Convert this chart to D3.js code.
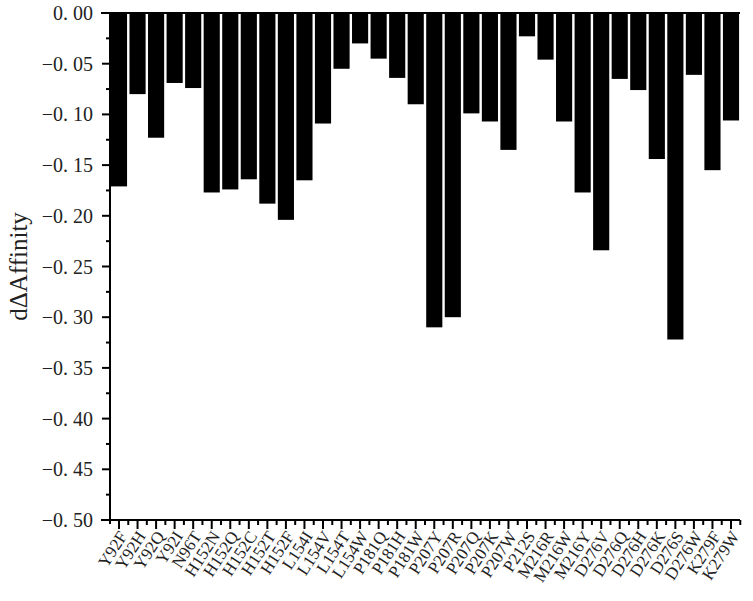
<!DOCTYPE html>
<html>
<head>
<meta charset="utf-8" />
<title>dΔAffinity bar chart</title>
<style>
html, body{
	margin: 0px;
	padding: 0px;
	background: #fff;
}
svg text{
	font-family: "Liberation Serif", "DejaVu Serif", serif;
	fill: #222;
}
</style>
</head>
<body>
<div id="chart"></div>
<script src="https://d3js.org/d3.v7.min.js"></script>
<script>

// mutations on the x axis
var mutants = ["Y92F","Y92H","Y92Q","Y92I","N96T","H152N","H152Q","H152C","H152T","H152F",
	"L154I","L154V","L154T","L154W","P181Q","P181H","P181W","P207Y","P207R","P207Q",
	"P207K","P207W","P212S","M216R","M216W","M216Y","D276V","D276Q","D276H","D276K",
	"D276S","D276W","K279F","K279W"];

// dΔAffinity values
var affinity = [-0.171,-0.080,-0.123,-0.069,-0.074,-0.177,-0.174,-0.164,-0.188,-0.204,
	-0.165,-0.109,-0.055,-0.030,-0.045,-0.064,-0.090,-0.310,-0.300,-0.099,
	-0.107,-0.135,-0.023,-0.046,-0.107,-0.177,-0.234,-0.065,-0.076,-0.144,
	-0.322,-0.061,-0.155,-0.106];

var yTicks = [0,-0.05,-0.10,-0.15,-0.20,-0.25,-0.30,-0.35,-0.40,-0.45,-0.50];
var yMinor = d3.range(0, 21).map(function(i){ return -i * 0.025; });

var W = 753, H = 601;
var mLeft = 110, mRight = 740, mTop = 13, mBottom = 520;

var svg = d3.select("#chart").append("svg")
	.attr("width", W)
	.attr("height", H);

var x = d3.scaleBand()
	.domain(mutants)
	.range([mLeft, mRight])
	.paddingInner(0.13)
	.paddingOuter(0.05);

var y = d3.scaleLinear()
	.domain([0, -0.5])
	.range([mTop, mBottom]);

var data = mutants.map(function(m, i){ return {name: m, v: affinity[i]}; });

// bars hang down from zero
svg.append("g").selectAll("rect")
	.data(data)
	.enter()
	.append("rect")
		.attr("x", function(d){ return x(d.name); })
		.attr("width", x.bandwidth())
		.attr("y", y(0))
		.attr("height", function(d){ return y(d.v) - y(0); })
		.attr("fill", "#000");

// top line at zero
svg.append("line")
	.attr("x1", 101).attr("x2", mRight)
	.attr("y1", y(0)).attr("y2", y(0))
	.attr("stroke", "#000").attr("stroke-width", 2);

// y axis
var yAxis = svg.append("g");
yAxis.append("line")
	.attr("x1", mLeft).attr("x2", mLeft)
	.attr("y1", mTop).attr("y2", mBottom + 4)
	.attr("stroke", "#000").attr("stroke-width", 2);

yAxis.selectAll(".minor")
	.data(yMinor)
	.enter()
	.append("line")
		.attr("x1", function(d, i){ return i % 2 === 0 ? mLeft - 8 : mLeft - 4; })
		.attr("x2", mLeft)
		.attr("y1", function(d){ return y(d); })
		.attr("y2", function(d){ return y(d); })
		.attr("stroke", "#000").attr("stroke-width", 2);

yAxis.selectAll("text")
	.data(yTicks)
	.enter()
	.append("text")
		.attr("x", 93)
		.attr("y", function(d){ return y(d); })
		.attr("dy", "0.35em")
		.attr("text-anchor", "end")
		.attr("font-size", 20)
		.text(function(d){
			var s = d3.format(".2f")(Math.abs(d)).replace(".", ". ");
			return d < 0 ? "\u2212" + s : s;
		});

svg.append("text")
	.attr("transform", "translate(27," + ((mTop + mBottom) / 2) + ") rotate(-90)")
	.attr("text-anchor", "middle")
	.attr("font-size", 25)
	.text("dΔAffinity");

// x axis at the bottom
var xAxis = svg.append("g");
xAxis.append("line")
	.attr("x1", 101).attr("x2", mRight)
	.attr("y1", mBottom).attr("y2", mBottom)
	.attr("stroke", "#000").attr("stroke-width", 2);

// long ticks at the bar centres
xAxis.selectAll(".major")
	.data(mutants)
	.enter()
	.append("line")
		.attr("x1", function(d){ return x(d) + x.bandwidth() / 2; })
		.attr("x2", function(d){ return x(d) + x.bandwidth() / 2; })
		.attr("y1", mBottom).attr("y2", mBottom + 9)
		.attr("stroke", "#000").attr("stroke-width", 2);

// short ticks between bars
var step = x.step();
xAxis.selectAll(".minorx")
	.data(mutants)
	.enter()
	.append("line")
		.attr("x1", function(d){ return x(d) + x.bandwidth() / 2 + step / 2; })
		.attr("x2", function(d){ return x(d) + x.bandwidth() / 2 + step / 2; })
		.attr("y1", mBottom).attr("y2", mBottom + 5)
		.attr("stroke", "#000").attr("stroke-width", 2);

xAxis.selectAll("text")
	.data(mutants)
	.enter()
	.append("text")
		.attr("transform", function(d){
			return "translate(" + (x(d) + x.bandwidth() / 2 + 9) + "," + (mBottom + 16) + ") rotate(-57)";
		})
		.attr("text-anchor", "end")
		.attr("font-size", 17)
		.text(function(d){ return d; });

</script>
</body>
</html>
